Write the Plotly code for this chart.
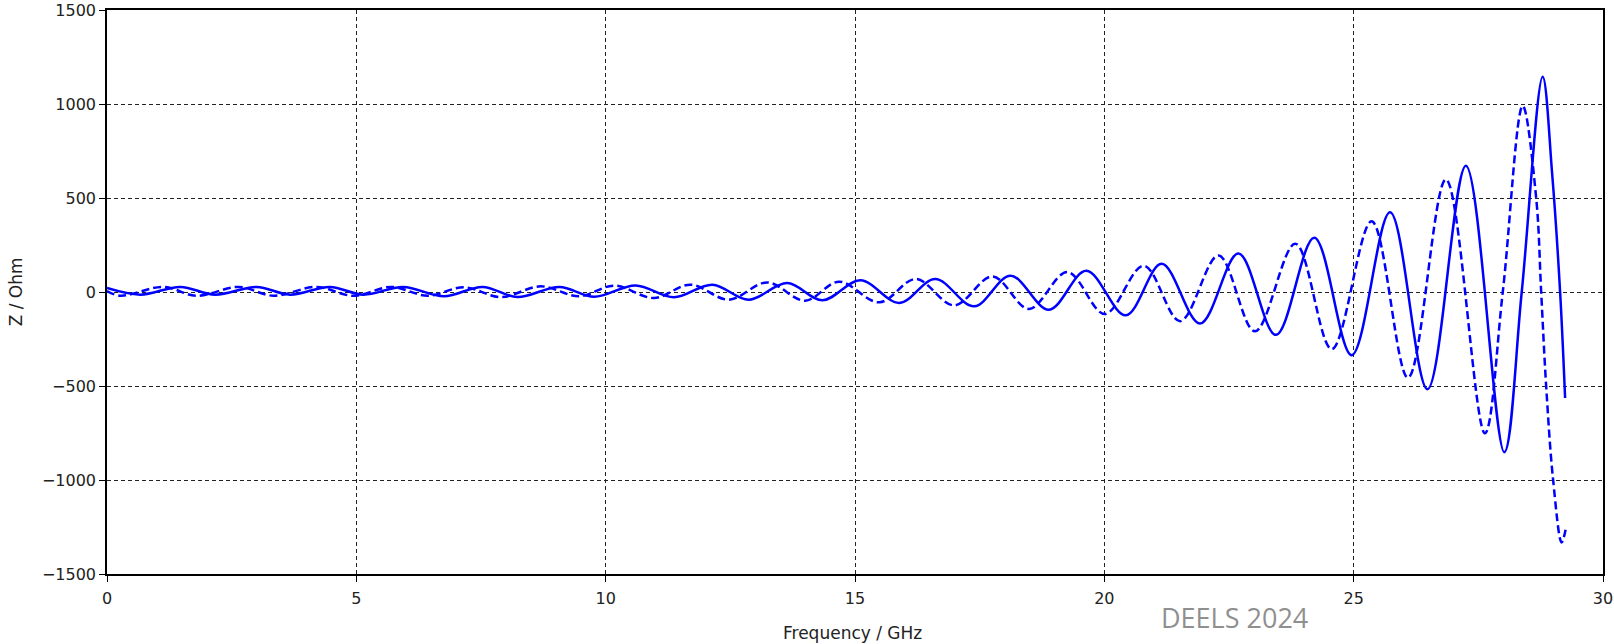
import plotly.graph_objects as go

# Solid curve: extrema (and a few read crossing points) in GHz / Ohm
f_solid = [0.0, 0.67, 1.47, 2.17, 3.0, 3.67, 4.47, 5.14, 5.94, 6.76, 7.53, 8.23,
           9.07, 9.77, 10.6, 11.37, 12.14, 12.87, 13.64, 14.35, 15.11, 15.89,
           16.61, 17.39, 18.12, 18.89, 19.64, 20.43, 21.15, 21.92, 22.69, 23.44,
           24.21, 24.96, 25.73, 26.48, 27.25, 28.02, 28.37, 28.79, 28.98, 29.14, 29.24]
z_solid = [21, -14, 27, -14, 27, -14, 27, -14, 27, -23, 27, -27,
           27, -25, 35, -28, 39, -41, 48, -44, 62, -58,
           69, -76, 87, -94, 113, -124, 150, -168, 205, -228,
           289, -336, 424, -517, 671, -852, 0, 1145, 630, 0, -564]

# Dashed curve
f_dash = [0.0, 0.27, 1.13, 1.8, 2.64, 3.34, 4.2, 4.94, 5.7, 6.43, 7.16, 7.9,
          8.7, 9.47, 10.17, 10.97, 11.7, 12.47, 13.24, 14.0, 14.68, 15.49,
          16.22, 16.99, 17.76, 18.49, 19.26, 20.01, 20.79, 21.52, 22.29, 23.02,
          23.83, 24.56, 25.36, 26.09, 26.85, 27.63, 27.99, 28.39, 28.66, 28.76,
          28.86, 29.0, 29.17, 29.25]
z_dash = [5, -20, 27, -20, 27, -20, 27, -20, 27, -20, 25, -27,
          30, -23, 34, -32, 39, -41, 51, -46, 55, -55,
          69, -71, 83, -90, 106, -117, 140, -155, 194, -209,
          257, -304, 376, -456, 599, -751, 0, 990, 500, 0,
          -500, -1000, -1332, -1264]

x_ticks = [0, 5, 10, 15, 20, 25, 30]
y_ticks = [-1500, -1000, -500, 0, 500, 1000, 1500]

fig = go.Figure()
fig.add_trace(go.Scatter(x=f_dash, y=z_dash, mode="lines",
                         line=dict(color="#0000FF", width=2.5, dash="8px,4px",
                                   shape="spline", smoothing=1.0),
                         showlegend=False))
fig.add_trace(go.Scatter(x=f_solid, y=z_solid, mode="lines",
                         line=dict(color="#0000FF", width=2.5,
                                   shape="spline", smoothing=1.0),
                         showlegend=False))

axis_common = dict(showline=True, linecolor="#000000", mirror=True, automargin=False,
                   showgrid=True, gridcolor="#222222", gridwidth=1, griddash="4px,3px",
                   zeroline=False, ticks="outside", ticklen=6, tickcolor="#000000",
                   tickfont=dict(family="DejaVu Sans", size=16, color="#222222"))

fig.update_xaxes(range=[0, 30], tickvals=x_ticks, linewidth=2, ticklabelstandoff=3,
                 **axis_common)
fig.update_yaxes(range=[-1500, 1500], tickvals=y_ticks, linewidth=1.5, **axis_common)

fig.add_annotation(text="Frequency / GHz", xref="paper", yref="paper",
                   x=0.4985, y=-0.104, xanchor="center", yanchor="middle",
                   showarrow=False, font=dict(family="DejaVu Sans", size=17, color="#222222"))
fig.add_annotation(text="Z / Ohm", xref="paper", yref="paper",
                   x=-0.0606, y=0.5, xanchor="center", yanchor="middle", textangle=-90,
                   showarrow=False, font=dict(family="DejaVu Sans", size=17, color="#222222"))
fig.add_annotation(text="DEELS 2024", xref="paper", yref="paper",
                   x=0.7534, y=-0.077, xanchor="center", yanchor="middle",
                   showarrow=False, font=dict(family="Open Sans", size=27, color="#8f8f8f"))

fig.update_layout(width=1614, height=644,
                  margin=dict(l=107, r=11, t=10, b=70),
                  plot_bgcolor="#FFFFFF", paper_bgcolor="#FFFFFF")

fig.write_html("out.html")
